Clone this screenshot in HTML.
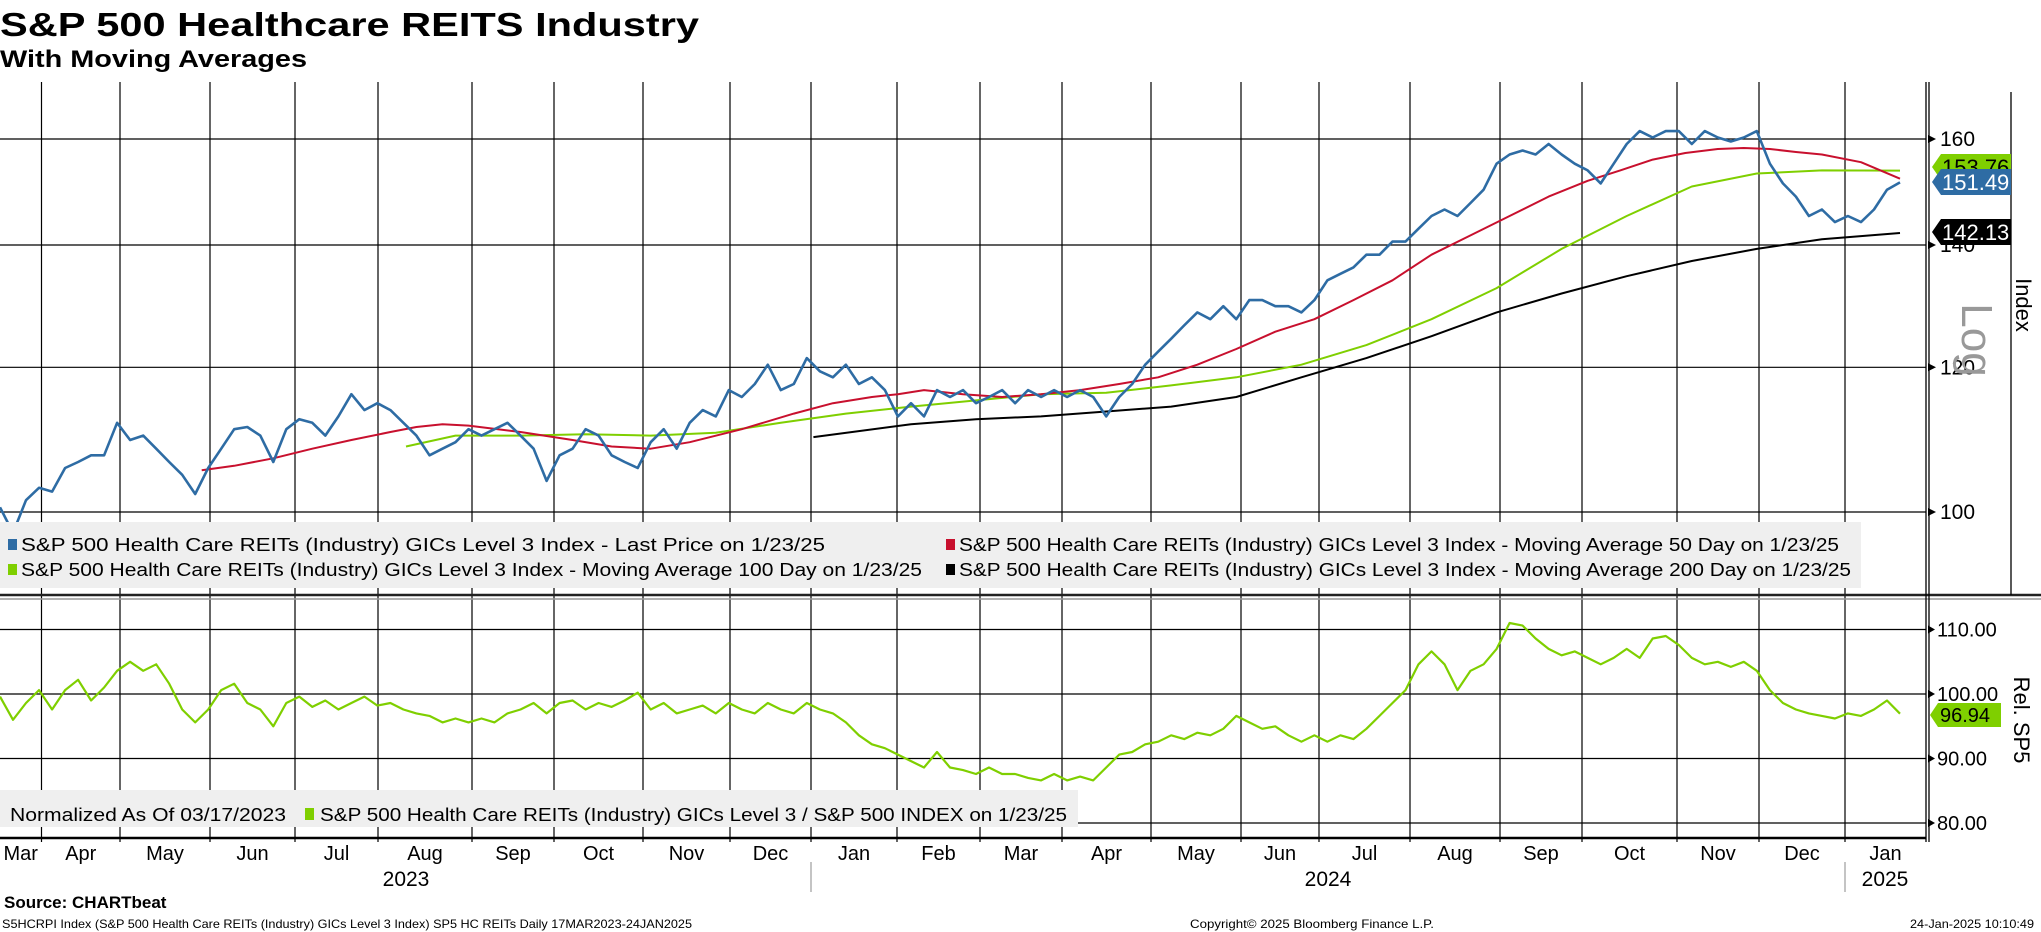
<!DOCTYPE html>
<html><head><meta charset="utf-8"><style>
html,body{margin:0;padding:0;background:#fff}
svg{display:block;font-family:"Liberation Sans Narrow","Liberation Sans",sans-serif}
</style></head><body>
<svg id="chart" width="2041" height="932" viewBox="0 0 2041 932" xmlns="http://www.w3.org/2000/svg">
<text x="0" y="36" font-size="33" font-weight="bold" textLength="699" lengthAdjust="spacingAndGlyphs" font-family="Liberation Sans, sans-serif">S&amp;P 500 Healthcare REITS Industry</text>
<text x="0" y="67" font-size="24" font-weight="bold" textLength="307" lengthAdjust="spacingAndGlyphs" font-family="Liberation Sans, sans-serif">With Moving Averages</text>
<g id="grid"></g>
<g id="series"></g>
<g id="legends">
<rect x="0" y="522" width="1861" height="66" fill="#efefef"/>
<rect x="8" y="539" width="9" height="11" fill="#2e6ca4"/>
<text x="21" y="551" font-size="18" textLength="804" lengthAdjust="spacingAndGlyphs">S&amp;P 500 Health Care REITs (Industry) GICs Level 3 Index - Last Price on 1/23/25</text>
<rect x="946" y="539" width="9" height="11" fill="#c8102e"/>
<text x="959" y="551" font-size="18" textLength="880" lengthAdjust="spacingAndGlyphs">S&amp;P 500 Health Care REITs (Industry) GICs Level 3 Index - Moving Average 50 Day on 1/23/25</text>
<rect x="8" y="564" width="9" height="11" fill="#7fcf00"/>
<text x="21" y="576" font-size="18" textLength="901" lengthAdjust="spacingAndGlyphs">S&amp;P 500 Health Care REITs (Industry) GICs Level 3 Index - Moving Average 100 Day on 1/23/25</text>
<rect x="946" y="564" width="9" height="11" fill="#000"/>
<text x="959" y="576" font-size="18" textLength="892" lengthAdjust="spacingAndGlyphs">S&amp;P 500 Health Care REITs (Industry) GICs Level 3 Index - Moving Average 200 Day on 1/23/25</text>
<rect x="0" y="790" width="1078" height="37" fill="#efefef"/>
<text x="10" y="821" font-size="18" textLength="276" lengthAdjust="spacingAndGlyphs">Normalized As Of 03/17/2023</text>
<rect x="305" y="808" width="9" height="12" fill="#7fcf00"/>
<text x="320" y="821" font-size="18" textLength="747" lengthAdjust="spacingAndGlyphs">S&amp;P 500 Health Care REITs (Industry) GICs Level 3 / S&amp;P 500 INDEX on 1/23/25</text>
</g>
<g id="axes"></g>
<text x="4" y="908" font-size="17" font-weight="bold" font-family="Liberation Sans, sans-serif">Source: CHARTbeat</text>
<text x="2" y="928" font-size="12" textLength="690" lengthAdjust="spacingAndGlyphs">S5HCRPI Index (S&amp;P 500 Health Care REITs (Industry) GICs Level 3 Index) SP5 HC REITs  Daily 17MAR2023-24JAN2025</text>
<text x="1190" y="928" font-size="12" textLength="244" lengthAdjust="spacingAndGlyphs">Copyright© 2025 Bloomberg Finance L.P.</text>
<text x="1910" y="928" font-size="12" textLength="124" lengthAdjust="spacingAndGlyphs">24-Jan-2025 10:10:49</text>
</svg>
<script>
// ---- data (samples ≈ every 2.4 trading days from 17-Mar-2023 to 23-Jan-2025) ----
const priceValues = [100.6,97.4,101.5,103.1,102.6,105.7,106.5,107.4,107.4,111.9,109.5,110.1,108.3,106.5,104.8,102.3,105.7,108.3,111.0,111.3,110.1,106.5,111.0,112.4,111.9,110.1,112.8,116.0,113.7,114.7,113.7,111.9,110.1,107.4,108.3,109.2,111.0,110.1,111.0,111.9,110.1,108.3,104.0,107.4,108.3,111.0,110.1,107.4,106.5,105.7,109.2,111.0,108.3,111.9,113.7,112.8,116.6,115.6,117.5,120.4,116.6,117.5,121.4,119.4,118.5,120.4,117.5,118.5,116.6,112.8,114.7,112.8,116.6,115.6,116.6,114.7,115.6,116.6,114.7,116.6,115.6,116.6,115.6,116.6,115.6,112.8,115.6,117.5,120.4,122.4,124.4,126.5,128.6,127.5,129.6,127.5,130.6,130.6,129.6,129.6,128.6,130.6,133.9,135.0,136.1,138.3,138.3,140.6,140.6,142.9,145.2,146.4,145.2,147.6,150.1,155.1,156.9,157.7,156.9,159.0,156.9,155.1,153.8,151.3,155.1,159.0,161.6,160.3,161.6,161.6,159.0,161.6,160.3,159.5,160.3,161.6,155.1,151.3,148.8,145.2,146.4,144.1,145.2,144.1,146.4,150.1,151.49];
const ma50Idx = [15.5,18,21,24,27,30,32,34,36,40,44,47,50,53,57,61,64,67,69,71,74,77,80,83,86,89,92,95,98,101,104,107,110,113,116,119,122,124.5,127,129.5,132,134,136,138,140,143,146];
const ma50Values = [105.4,106,107,108.3,109.5,110.6,111.3,111.7,111.5,110.6,109.5,108.6,108.3,109.2,111.0,113.2,114.7,115.6,116,116.6,116,115.6,116,116.6,117.5,118.5,120.4,122.8,125.5,127.5,130.6,133.9,138.3,141.7,145.2,148.8,151.8,153.8,155.9,157.2,158,158.2,158,157.4,156.9,155.4,152.2];
const ma100Idx = [31.2,35,40,45,50,55,60,65,70,75,80,85,90,95,100,105,110,115,120,125,130,135,140,146];
const ma100Values = [108.6,110.1,110.1,110.3,110.1,110.5,111.9,113.2,114.2,115.1,116.0,116.2,117.3,118.5,120.4,123.4,127.5,132.6,139.3,145.2,150.7,153.2,153.8,153.76];
const ma200Idx = [62.5,70,75,80,85,90,95,100,105,110,115,120,125,130,135,140,146];
const ma200Values = [109.9,111.7,112.4,112.8,113.5,114.2,115.6,118.5,121.4,124.8,128.6,131.7,134.6,137.2,139.3,141.0,142.13];
const relValues = [99.6,96,98.6,100.6,97.6,100.6,102.2,99,101,103.6,105,103.6,104.6,101.6,97.6,95.6,97.6,100.6,101.6,98.6,97.6,95,98.6,99.6,98,99,97.6,98.6,99.6,98.2,98.6,97.6,97,96.6,95.6,96.2,95.6,96.2,95.6,97,97.6,98.6,97,98.6,99,97.6,98.6,98,99,100.2,97.6,98.6,97,97.6,98.2,97,98.6,97.6,97,98.6,97.6,97,98.6,97.6,97,95.6,93.6,92.2,91.6,90.6,89.6,88.6,91,88.6,88.2,87.6,88.6,87.6,87.6,87,86.6,87.6,86.6,87.2,86.6,88.6,90.6,91,92.2,92.6,93.6,93,94,93.6,94.6,96.6,95.6,94.6,95,93.6,92.6,93.6,92.6,93.6,93,94.6,96.6,98.6,100.6,104.6,106.6,104.6,100.6,103.6,104.6,107,111,110.6,108.6,107,106,106.6,105.6,104.6,105.6,107,105.6,108.6,109,107.6,105.6,104.6,105,104.2,105,103.6,100.6,98.6,97.6,97,96.6,96.2,97,96.6,97.6,99,96.94];
const upperTicks = [100,120,140,160];
const lowerTicks = [80,90,100,110];
const lowerTickLabels = ["80.00","90.00","100.00","110.00"];
const monthLabels = ["Mar","Apr","May","Jun","Jul","Aug","Sep","Oct","Nov","Dec","Jan","Feb","Mar","Apr","May","Jun","Jul","Aug","Sep","Oct","Nov","Dec","Jan"];
const yearLabels = ["2023","2024","2025"];
const lastLabels = ["153.76","151.49","142.13"];

// ---- layout ----
const NS="http://www.w3.org/2000/svg";
const X0=0, X1=1900, AXIS=1926;
const monthEdges=[0,41.5,120,210,295,378,472,554,643,730,811,897,980,1062,1151,1241,1319,1410,1500,1582,1677,1759,1845,1926];
const yearPos=[406,1328,1885];
function xS(i){return X0+(X1-X0)*i/(priceValues.length-1);}
function yU(v){return 139+(Math.log(160)-Math.log(v))*(512-139)/(Math.log(160)-Math.log(100));}
function yL(v){return 694+(100-v)*(823-694)/20;}
function mk(tag,attrs,parent){const e=document.createElementNS(NS,tag);for(const k in attrs)e.setAttribute(k,attrs[k]);parent.appendChild(e);return e;}
const grid=document.getElementById('grid'), ser=document.getElementById('series'), ax=document.getElementById('axes');

for(let m=1;m<monthEdges.length-1;m++){
  const l=mk('line',{x1:monthEdges[m],x2:monthEdges[m],y1:82,y2:842,stroke:'#000','stroke-width':1.2},grid);
  
  
}
upperTicks.forEach((t)=>{
  const y=yU(t);
  const l=mk('line',{x1:0,x2:AXIS,y1:y,y2:y,stroke:'#000','stroke-width':1.2},grid);
  
  
  const a=mk('path',{d:`M${AXIS+2} ${y-4}L${AXIS+10} ${y}L${AXIS+2} ${y+4}Z`,fill:'#000'},ax);
  
  
  const tx=mk('text',{x:AXIS+14,y:y+7,'font-size':21},ax);
  
  
  tx.textContent=String(t);
});
lowerTicks.forEach((t,i)=>{
  const y=yL(t);
  const l=mk('line',{x1:0,x2:AXIS,y1:y,y2:y,stroke:'#000','stroke-width':1.2},grid);
  
  
  const a=mk('path',{d:`M${AXIS+2} ${y-4}L${AXIS+9} ${y}L${AXIS+2} ${y+4}Z`,fill:'#000'},ax);
  
  
  const tx=mk('text',{x:AXIS+11,y:y+7,'font-size':20},ax);
  
  
  tx.textContent=lowerTickLabels[i];
});
[['panel-separator',`M0 595H2041`,2.5,'#222'],['panel-separator-light',`M0 599H2041`,1.5,'#999'],
 ['x-axis-line',`M0 838H${AXIS}`,2.5,'#000'],['right-axis-line',`M${AXIS} 82V842`,1.3,'#000'],
 ['right-axis-line-2',`M${AXIS+3} 82V842`,1.3,'#000'],['right-border',`M2011 92V595`,1.3,'#000'],
 ['year-separator-2024','M811 862V892',1,'#888'],['year-separator-2025','M1845 862V892',1,'#888']].forEach(d=>{
  const p=mk('path',{d:d[1],stroke:d[3],'stroke-width':d[2],fill:'none'},ax);
  
  
});
monthLabels.forEach((m,i)=>{
  const t=mk('text',{x:(monthEdges[i]+monthEdges[i+1])/2,y:860,'font-size':20,'text-anchor':'middle'},ax);
  
  
  t.textContent=m;
});
yearLabels.forEach((y,i)=>{
  const t=mk('text',{x:yearPos[i],y:886,'font-size':21,'text-anchor':'middle'},ax);
  
  
  t.textContent=y;
});
function path(xs,vs,yf,color,w,name){
  const d=vs.map((v,i)=>(i?'L':'M')+xs[i].toFixed(1)+' '+yf(v).toFixed(1)).join('');
  const p=mk('path',{d:d,fill:'none',stroke:color,'stroke-width':w,'stroke-linejoin':'round'},ser);
  
  
}
path(ma200Idx.map(xS),ma200Values,yU,'#000',2,'ma200-line');
path(ma100Idx.map(xS),ma100Values,yU,'#7fcf00',2,'ma100-line');
path(ma50Idx.map(xS),ma50Values,yU,'#c8102e',2,'ma50-line');
path(priceValues.map((v,i)=>xS(i)),priceValues,yU,'#2e6ca4',2.6,'price-line');
path(relValues.map((v,i)=>xS(i)),relValues,yL,'#7fcf00',2.2,'relative-line');
const lastVals=[ma100Values[ma100Values.length-1],priceValues[priceValues.length-1],ma200Values[ma200Values.length-1]];
const lastCol=['#7fcf00','#2e6ca4','#000'];
const lastNames=['ma100-value-label','price-value-label','ma200-value-label'];
const lastY=[167,182,232];
lastVals.forEach((v,i)=>{
  const y=lastY[i];
  const b=mk('path',{d:`M1932 ${y}L1941 ${y-13}H2011V${y+13}H1941Z`,fill:lastCol[i]},ax);
  
  
  const t=mk('text',{x:1942,y:y+8,'font-size':22,fill:i==0?'#000':'#fff'},ax);
  
  
  t.textContent=lastLabels[i];
});
{
  const y=715;
  const b=mk('path',{d:`M1930 ${y}L1938 ${y-12}H2001V${y+12}H1938Z`,fill:'#7fcf00'},ax);
  
  
  const t=mk('text',{x:1940,y:y+7,'font-size':20},ax);
  
  
  t.textContent=relValues[relValues.length-1].toFixed(2);
}
[['log-scale-label','Log',1962,340,44,'#999'],['y-axis-title','Index',2016,305,22,'#000'],['lower-y-axis-title','Rel. SP5',2014,720,22,'#000']].forEach(a=>{
  const t=mk('text',{x:a[2],y:a[3],'font-size':a[4],fill:a[5],'text-anchor':'middle',transform:`rotate(90 ${a[2]} ${a[3]})`},ax);
  
  
  t.textContent=a[1];
});
</script>
</body></html>
